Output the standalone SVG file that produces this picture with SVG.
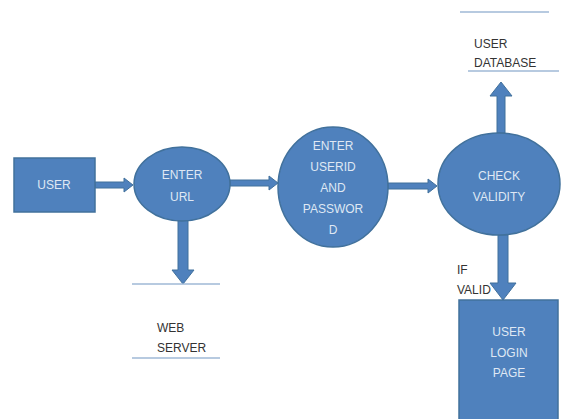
<svg xmlns="http://www.w3.org/2000/svg" width="576" height="419" viewBox="0 0 576 419">
<style>
.shape{fill:#4f81bd;stroke:#41719c;stroke-width:1.5}
.arrow{fill:#4f81bd;stroke:#41719c;stroke-width:1}
.lt{font-family:"Liberation Sans",Arial,sans-serif;font-size:12px;fill:#dfe8f4;text-anchor:middle}
.dt{font-family:"Liberation Sans",Arial,sans-serif;font-size:12px;fill:#333333}
.rule{stroke:#9fb8d6;stroke-width:1.5}
</style>
<rect width="576" height="419" fill="#ffffff"/>
<g id="connectors">
<polygon class="arrow" points="95,182 124,182 124,178 133,185 124,192 124,188 95,188"/>
<polygon class="arrow" points="230,180 269,180 269,176 278,183 269,190 269,186 230,186"/>
<polygon class="arrow" points="388,183 428,183 428,179 437,186 428,193 428,189 388,189"/>
<polygon class="arrow" points="178,220 188,220 188,270 194,270 183,284 172,270 178,270"/>
<polygon class="arrow" points="497,133 505,133 505,96 512,96 501,82 490,96 497,96"/>
<polygon class="arrow" points="498,235 508,235 508,283 516,283 503,300 490,283 498,283"/>
</g>
<g id="user">
<rect class="shape" x="14" y="158" width="81" height="54"/>
<text class="lt" x="54" y="189">USER</text>
</g>
<g id="enter-url">
<ellipse class="shape" cx="182" cy="184" rx="48" ry="37"/>
<text class="lt" x="182" y="179">ENTER</text>
<text class="lt" x="182" y="201">URL</text>
</g>
<g id="enter-userid">
<ellipse class="shape" cx="333" cy="187" rx="55" ry="60"/>
<text class="lt" x="333" y="150">ENTER</text>
<text class="lt" x="333" y="171">USERID</text>
<text class="lt" x="333" y="192">AND</text>
<text class="lt" x="333" y="213">PASSWOR</text>
<text class="lt" x="333" y="234">D</text>
</g>
<g id="check-validity">
<ellipse class="shape" cx="499" cy="184" rx="61" ry="51"/>
<text class="lt" x="499" y="180">CHECK</text>
<text class="lt" x="499" y="201">VALIDITY</text>
</g>
<g id="web-server">
<line class="rule" x1="132" y1="284" x2="220" y2="284"/>
<text class="dt" x="157" y="332">WEB</text>
<text class="dt" x="157" y="352">SERVER</text>
<line class="rule" x1="132" y1="358" x2="220" y2="358"/>
</g>
<g id="user-database">
<line class="rule" x1="460" y1="12" x2="549" y2="12"/>
<text class="dt" x="474" y="48">USER</text>
<text class="dt" x="474" y="67">DATABASE</text>
<line class="rule" x1="468" y1="71" x2="559" y2="71"/>
</g>
<g id="user-login-page">
<rect class="shape" x="459" y="300" width="99" height="125"/>
<text class="lt" x="509" y="336">USER</text>
<text class="lt" x="509" y="357">LOGIN</text>
<text class="lt" x="509" y="377">PAGE</text>
</g>
<g id="if-valid">
<text class="dt" x="457" y="274">IF</text>
<text class="dt" x="457" y="294">VALID</text>
</g>
</svg>
